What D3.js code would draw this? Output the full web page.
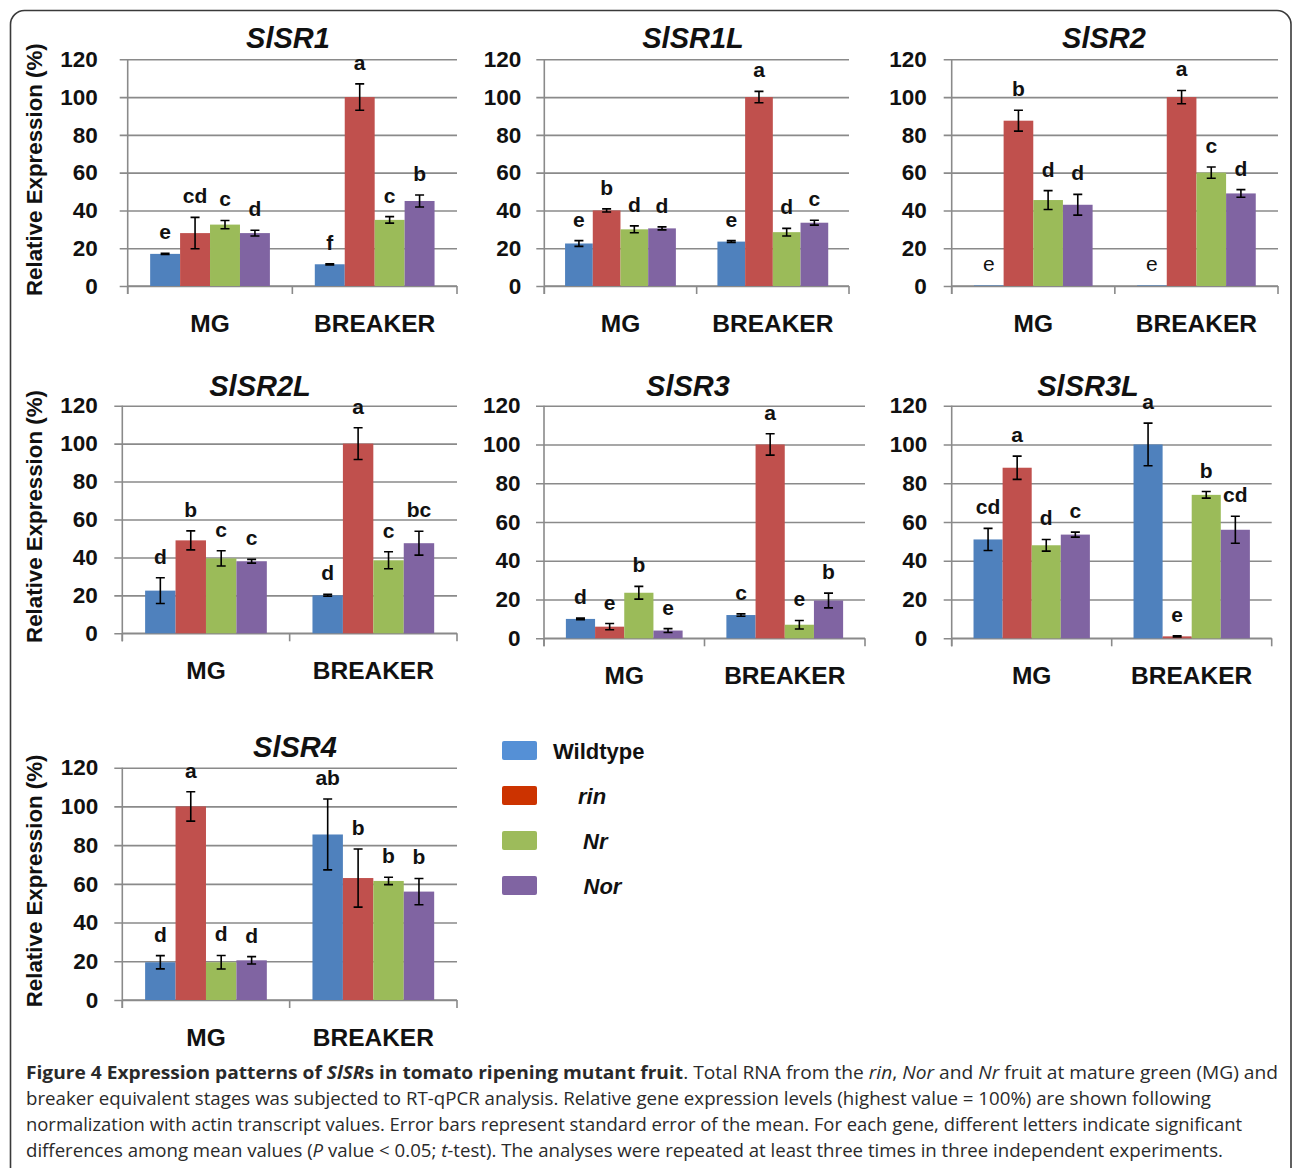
<!DOCTYPE html>
<html>
<head>
<meta charset="utf-8">
<script src="https://cdn.jsdelivr.net/npm/d3@7"></script>
<style>
  html, body { margin: 0; padding: 0; background: #fff; }
  svg { display: block; }
</style>
</head>
<body>
<svg id="fig" width="1293" height="1168"></svg>
<script>
// ---- data ----
const stages = ["MG", "BREAKER"];
const genotypes = ["Wildtype", "rin", "Nr", "Nor"];
const yTicks = [0, 20, 40, 60, 80, 100, 120];
const genes = ["SlSR1", "SlSR1L", "SlSR2", "SlSR2L", "SlSR3", "SlSR3L", "SlSR4"];

// mean relative expression (%), per gene: [MG x 4 genotypes, BREAKER x 4 genotypes]
const meanSlSR1  = [[17, 28, 32.5, 28], [11.5, 100, 35, 45]];
const meanSlSR1L = [[22.5, 40, 30, 30.5], [23.5, 100, 28.5, 33.5]];
const meanSlSR2  = [[0.3, 87.5, 45.5, 43], [0.3, 100, 60, 49]];
const meanSlSR2L = [[22.5, 49, 39.5, 38], [20, 100, 38.5, 47.5]];
const meanSlSR3  = [[10, 6, 23.5, 4], [12, 100, 7, 19.5]];
const meanSlSR3L = [[51, 88, 48, 53.5], [100, 1, 74, 56]];
const meanSlSR4  = [[19.5, 100, 19.5, 20.5], [85.5, 63, 61.5, 56]];

// standard error of the mean
const seSlSR1  = [[0.3, 8.3, 2.2, 1.5], [0.3, 7, 1.7, 3.2]];
const seSlSR1L = [[1.5, 0.8, 1.8, 0.8], [0.5, 3, 2, 1.3]];
const seSlSR2  = [[0, 5.5, 5, 5.5], [0, 3.5, 3, 2]];
const seSlSR2L = [[6.8, 5, 4, 1], [0.5, 8.4, 4.5, 6.3]];
const seSlSR3  = [[0.4, 1.6, 3.3, 1], [0.6, 5.5, 2.2, 3.8]];
const seSlSR3L = [[5.7, 6, 3, 1.3], [11, 0.3, 1.7, 7]];
const seSlSR4  = [[3.4, 7.6, 3.5, 1.9], [18.3, 15, 1.9, 6.8]];

// significance letters
const letSlSR1  = [["e", "cd", "c", "d"], ["f", "a", "c", "b"]];
const letSlSR1L = [["e", "b", "d", "d"], ["e", "a", "d", "c"]];
const letSlSR2  = [["e", "b", "d", "d"], ["e", "a", "c", "d"]];
const letSlSR2L = [["d", "b", "c", "c"], ["d", "a", "c", "bc"]];
const letSlSR3  = [["d", "e", "b", "e"], ["c", "a", "e", "b"]];
const letSlSR3L = [["cd", "a", "d", "c"], ["a", "e", "b", "cd"]];
const letSlSR4  = [["d", "a", "d", "d"], ["ab", "b", "b", "b"]];

const means   = [meanSlSR1, meanSlSR1L, meanSlSR2, meanSlSR2L, meanSlSR3, meanSlSR3L, meanSlSR4];
const errors  = [seSlSR1, seSlSR1L, seSlSR2, seSlSR2L, seSlSR3, seSlSR3L, seSlSR4];
const letters = [letSlSR1, letSlSR1L, letSlSR2, letSlSR2L, letSlSR3, letSlSR3L, letSlSR4];

// ---- styling & layout ----
const barColors = ["#4F81BD", "#C0504D", "#9BBB59", "#8064A2"];
const keyColors = ["#5590D6", "#CC3300", "#9DBB5B", "#8064A2"];
const gridColor = "#8a8a8a";
const FONT = "'Liberation Sans', Arial, sans-serif";

// plot frames: x of value axis, right end, y at 120 and at 0
const frames = [
  {ax: 127.7, right: 457,    top: 59.3,  bottom: 286,   tx: 288,  ty: 48,  ytitle: true,  gap: 30},
  {ax: 544.3, right: 849,    top: 59.3,  bottom: 286,   tx: 693,  ty: 48,  ytitle: false, gap: 23},
  {ax: 951.7, right: 1278,   top: 59.3,  bottom: 286,   tx: 1104, ty: 48,  ytitle: false, gap: 25},
  {ax: 122.3, right: 457,    top: 405.7, bottom: 633.3, tx: 260,  ty: 396, ytitle: true,  gap: 24.5},
  {ax: 544,   right: 865,    top: 405.7, bottom: 638.3, tx: 688,  ty: 396, ytitle: false, gap: 23.5},
  {ax: 951.7, right: 1271.7, top: 405.7, bottom: 638.3, tx: 1088, ty: 396, ytitle: false, gap: 24.5},
  {ax: 122.3, right: 457,    top: 767.7, bottom: 1000,  tx: 295,  ty: 757, ytitle: true,  gap: 24}
];

const svg = d3.select("#fig");
svg.append("rect").attr("width", 1293).attr("height", 1168).attr("fill", "#fff");

// outer frame (open at the bottom edge of the page)
svg.append("rect")
  .attr("x", 10.5).attr("y", 10.5).attr("width", 1280.5).attr("height", 1200)
  .attr("rx", 14).attr("ry", 14)
  .attr("fill", "none").attr("stroke", "#3a3a3a").attr("stroke-width", 1.6);

genes.forEach((gene, gi) => {
  const f = frames[gi];
  const g = svg.append("g");

  const y = d3.scaleLinear().domain([0, 120]).range([f.bottom, f.top]);
  const x0 = d3.scaleBand().domain(stages).range([f.ax, f.right]).paddingInner(0).paddingOuter(0);
  const x1 = d3.scaleBand().domain(genotypes).range([0, x0.bandwidth()]).paddingInner(0).paddingOuter(0.75);

  // horizontal gridlines with short ticks left of the axis
  const yAxis = d3.axisLeft(y).tickValues(yTicks)
    .tickSize(-(f.right - f.ax) - 8).tickSizeOuter(0).tickPadding(f.gap - 8)
    .tickFormat(d3.format("d"));
  const ya = g.append("g").attr("transform", `translate(${f.ax - 8},0)`).call(yAxis);
  ya.select(".domain").remove();
  ya.selectAll(".tick line").attr("stroke", gridColor).attr("stroke-width", 1.6)
    .attr("x1", 0);
  ya.selectAll(".tick text")
    .attr("font-family", FONT).attr("font-weight", "bold").attr("font-size", 22.5)
    .attr("fill", "#111").attr("x", -(f.gap - 8));

  // vertical value axis line
  g.append("line").attr("x1", f.ax).attr("x2", f.ax).attr("y1", f.top).attr("y2", f.bottom + 8)
    .attr("stroke", gridColor).attr("stroke-width", 1.6);

  // category axis with boundary ticks
  const xAxis = d3.axisBottom(x0).tickSize(0).tickPadding(0).tickFormat(d => d);
  const xa = g.append("g").attr("transform", `translate(0,${f.bottom})`).call(xAxis);
  xa.select(".domain").attr("stroke", gridColor).attr("stroke-width", 1.6)
    .attr("d", `M${f.ax},0H${f.right}`);
  xa.selectAll(".tick text")
    .attr("font-family", FONT).attr("font-weight", "bold").attr("font-size", 24.5)
    .attr("fill", "#111").attr("dy", null).attr("y", 46);
  const edges = [f.ax, ...stages.map(s => x0(s) + x0.bandwidth())];
  g.selectAll(null).data(edges).join("line")
    .attr("x1", d => d).attr("x2", d => d)
    .attr("y1", f.bottom).attr("y2", f.bottom + 8)
    .attr("stroke", gridColor).attr("stroke-width", 1.6);

  // bars, error bars, letters
  const rows = [];
  stages.forEach((s, si) => genotypes.forEach((gt, k) => rows.push({
    stage: s, gt, k,
    v: means[gi][si][k], e: errors[gi][si][k], t: letters[gi][si][k]
  })));

  const cx = d => x0(d.stage) + x1(d.gt) + x1.bandwidth() / 2;

  g.selectAll("rect.bar").data(rows).join("rect").attr("class", "bar")
    .attr("x", d => x0(d.stage) + x1(d.gt))
    .attr("width", x1.bandwidth())
    .attr("y", d => y(d.v))
    .attr("height", d => y(0) - y(d.v))
    .attr("fill", d => barColors[d.k]);

  const withErr = rows.filter(d => d.e > 0);
  const capW = 4.5;
  g.selectAll("path.err").data(withErr).join("path").attr("class", "err")
    .attr("d", d => {
      const c = cx(d), t = y(d.v + d.e), b = y(d.v - d.e);
      return `M${c},${t}V${b}M${c - capW},${t}H${c + capW}M${c - capW},${b}H${c + capW}`;
    })
    .attr("fill", "none").attr("stroke", "#000").attr("stroke-width", 1.6);

  g.selectAll("text.sig").data(rows).join("text").attr("class", "sig")
    .attr("x", cx)
    .attr("y", d => y(d.v + d.e) - 14)
    .attr("text-anchor", "middle")
    .attr("font-family", FONT)
    .attr("font-weight", d => d.v < 0.5 ? "normal" : "bold")
    .attr("font-size", 21)
    .attr("fill", "#111")
    .text(d => d.t);

  // gene name
  g.append("text").attr("x", f.tx).attr("y", f.ty)
    .attr("text-anchor", "middle").attr("font-family", FONT)
    .attr("font-weight", "bold").attr("font-style", "italic").attr("font-size", 29)
    .attr("fill", "#111").text(gene);

  if (f.ytitle) {
    const cy = (f.top + f.bottom) / 2 - 3;
    g.append("text")
      .attr("transform", `translate(${42},${cy}) rotate(-90)`)
      .attr("text-anchor", "middle").attr("font-family", FONT)
      .attr("font-weight", "bold").attr("font-size", 22.3)
      .attr("fill", "#111").text("Relative Expression (%)");
  }
});

// legend
const key = svg.append("g");
const keyRows = key.selectAll("g").data(genotypes).join("g")
  .attr("transform", (d, i) => `translate(502,${741 + i * 45})`);
keyRows.append("rect").attr("width", 35).attr("height", 19).attr("rx", 2)
  .attr("fill", (d, i) => keyColors[i]);
const keyTextX = [51, 76, 81, 81.5];
keyRows.append("text")
  .attr("x", (d, i) => keyTextX[i]).attr("y", 17.5)
  .attr("font-family", FONT).attr("font-weight", "bold").attr("font-size", 22)
  .attr("font-style", (d, i) => i === 0 ? "normal" : "italic")
  .attr("fill", "#111").text(d => d);

// caption
const captionLines = [
  [["Figure 4 Expression patterns of ", "b"], ["SlSR", "bi"], ["s in tomato ripening mutant fruit", "b"],
   [". Total RNA from the ", ""], ["rin", "i"], [", ", ""], ["Nor", "i"], [" and ", ""], ["Nr", "i"],
   [" fruit at mature green (MG) and", ""]],
  [["breaker equivalent stages was subjected to RT-qPCR analysis. Relative gene expression levels (highest value = 100%) are shown following", ""]],
  [["normalization with actin transcript values. Error bars represent standard error of the mean. For each gene, different letters indicate significant", ""]],
  [["differences among mean values (", ""], ["P", "i"], [" value < 0.05; ", ""], ["t", "i"],
   ["-test). The analyses were repeated at least three times in three independent experiments.", ""]]
];
const captionWidth = [1252, 1185, 1216, 1197];
const cap = svg.append("g");
captionLines.forEach((parts, li) => {
  const t = cap.append("text")
    .attr("x", 26).attr("y", 1079 + li * 26)
    .attr("font-family", "'Open Sans', 'Noto Sans', sans-serif").attr("font-size", 18.5)
    .attr("fill", "#2a2a2a")
    .attr("textLength", captionWidth[li]).attr("lengthAdjust", "spacingAndGlyphs");
  parts.forEach(([s, st]) => {
    t.append("tspan").text(s)
      .attr("font-weight", st.includes("b") ? "bold" : null)
      .attr("font-style", st.includes("i") ? "italic" : null);
  });
});
</script>
</body>
</html>
